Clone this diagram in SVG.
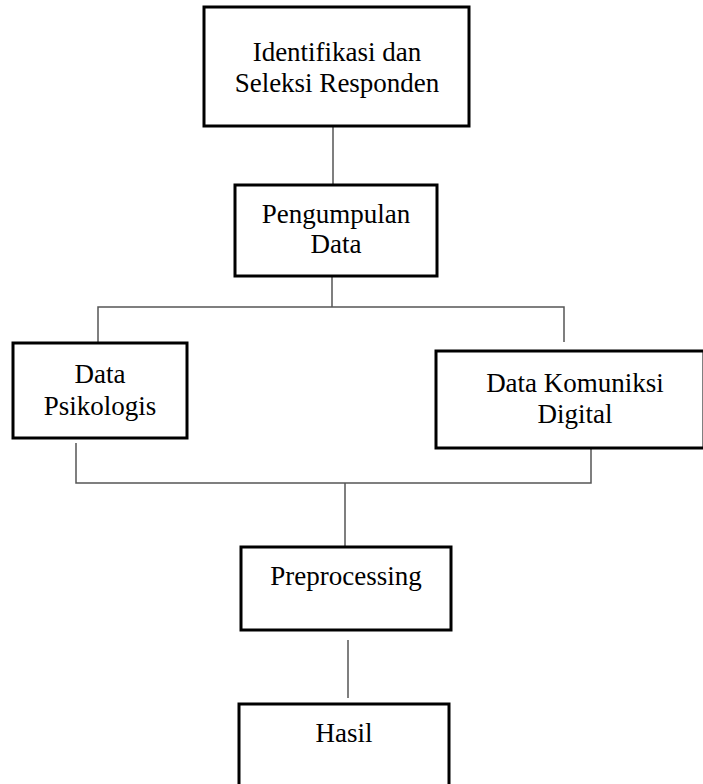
<svg xmlns="http://www.w3.org/2000/svg" width="703" height="784" viewBox="0 0 703 784">
<style>
.box{fill:#fff;stroke:#000;stroke-width:3}
.t{font-family:"Liberation Serif","Times New Roman",serif;font-size:27px;fill:#000;text-anchor:middle}
.c{fill:none;stroke:#555;stroke-width:1.5}
</style>
<rect width="703" height="784" fill="#fff"/>
<g id="connectors">
<line class="c" x1="333" y1="126" x2="333" y2="185"/>
<line class="c" x1="332" y1="276" x2="332" y2="307"/>
<polyline class="c" points="98,343 98,307 564,307 564,342"/>
<polyline class="c" points="76,443 76,483 591,483 591,448"/>
<line class="c" x1="345" y1="483" x2="345" y2="547"/>
<line class="c" x1="348" y1="640" x2="348" y2="698"/>
</g>
<g id="n1">
<rect class="box" x="204" y="7" width="265" height="119"/>
<text class="t" x="337" y="61">Identifikasi dan</text>
<text class="t" x="337" y="92">Seleksi Responden</text>
</g>
<g id="n2">
<rect class="box" x="235" y="185" width="202" height="91"/>
<text class="t" x="336" y="223">Pengumpulan</text>
<text class="t" x="336" y="253">Data</text>
</g>
<g id="n3">
<rect class="box" x="13" y="343" width="174" height="95"/>
<text class="t" x="100" y="383">Data</text>
<text class="t" x="100" y="415">Psikologis</text>
</g>
<g id="n4">
<rect class="box" x="436" y="351" width="268" height="97"/>
<text class="t" x="575" y="392">Data Komuniksi</text>
<text class="t" x="575" y="423">Digital</text>
</g>
<g id="n5">
<rect class="box" x="241" y="547" width="210" height="83"/>
<text class="t" x="346" y="585">Preprocessing</text>
</g>
<g id="n6">
<rect class="box" x="239" y="704" width="210" height="90"/>
<text class="t" x="344" y="742">Hasil</text>
</g>
</svg>
